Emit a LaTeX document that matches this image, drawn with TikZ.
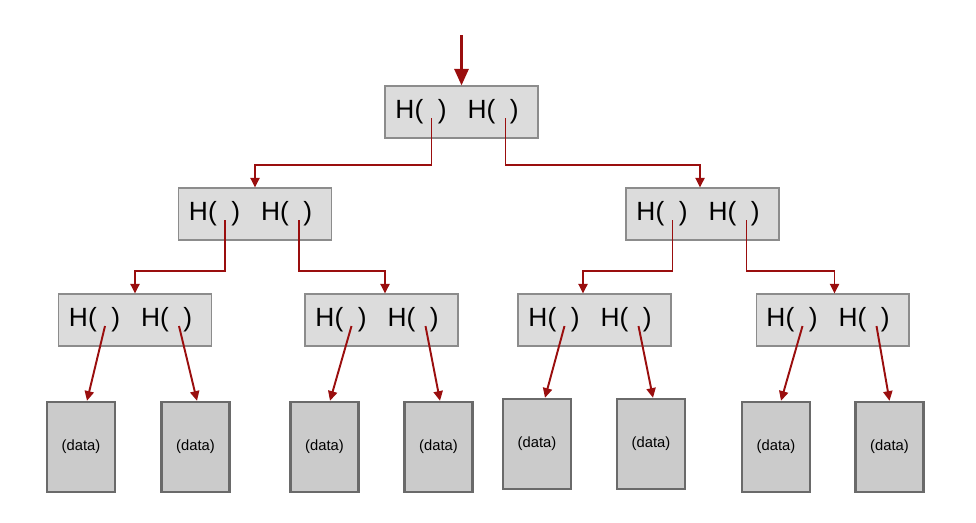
\documentclass[tikz,border=0pt]{standalone}
\usepackage{fontspec}
\setmainfont{Liberation Sans}
\usetikzlibrary{arrows.meta,positioning,calc}
\definecolor{Link}{HTML}{9A0E0E}
\definecolor{HashFill}{HTML}{DCDCDC}
\definecolor{HashLine}{HTML}{8C8C8C}
\definecolor{DataFill}{HTML}{CBCBCB}
\definecolor{DataLine}{HTML}{6A6A6A}
\tikzset{
 hashbox/.style={draw=HashLine,fill=HashFill,line width=.6pt,minimum width=3.06cm,minimum height=1.04cm,inner sep=0pt,font=\fontsize{15}{18}\selectfont},
 databox/.style={draw=DataLine,fill=DataFill,line width=1.4pt,minimum width=1.36cm,minimum height=1.8cm,inner sep=0pt,font=\fontsize{8.4}{10}\selectfont},
 arr/.style={-{Triangle[length=5.5pt,width=5.2pt]},line width=1.1pt,draw=Link},
 entry/.style={arr,line width=1.7pt,-{Triangle[length=9.5pt,width=8pt]}}
}
\newcommand{\hashpair}{H(\hspace{.55em})\hspace{.8em}H(\hspace{.55em})\rule{5pt}{0pt}}

\begin{document}
\begin{tikzpicture}[x=.02cm,y=-.02cm]
\useasboundingbox (0,0) rectangle (976,522);
% hash nodes, with the two pointer ends inside the brackets
\foreach \name/\x/\y in {root/461.5/112,left/255/214,right/702.5/214,ll/135/320,lr/381.5/320,rl/594.5/320,rr/832.5/320} {
 \node[hashbox] (\name) at (\x,\y) {\hashpair};
 \coordinate (\name-l) at ($(\name.center)+(-30,6)$);
 \coordinate (\name-r) at ($(\name.center)+(44,6)$);
}
% data blocks
\foreach \name/\x/\y in {leaf1/81/447,leaf2/195.5/447,leaf3/324.5/447,leaf4/438.5/447,leaf5/537/444,leaf6/651/444,leaf7/776/447,leaf8/889.5/447}
 \node[databox] (\name) at (\x,\y) {(data)};
\coordinate (entry) at (461.5,35);
\draw[entry] (entry) -- (root.north);
% elbow pointers between hash nodes
\foreach \from/\to/\dx/\dy in {root-l/left/0/47,root-r/right/-2.5/47,left-l/ll/0/51,left-r/lr/3.5/51,right-l/rl/-11.5/51,right-r/rr/2/51}
 \draw[arr] (\from) -- ++(0,\dy) -| ($(\to.north)+(\dx,0)$);
% straight pointers to the data
\foreach \from/\to/\dx in {ll-l/leaf1/6,ll-r/leaf2/1.5,lr-l/leaf3/5.5,lr-r/leaf4/1.5,rl-l/leaf5/8,rl-r/leaf6/2,rr-l/leaf7/5,rr-r/leaf8/0}
 \draw[arr] (\from) -- ($(\to.north)+(\dx,0)$);
\end{tikzpicture}
\end{document}
